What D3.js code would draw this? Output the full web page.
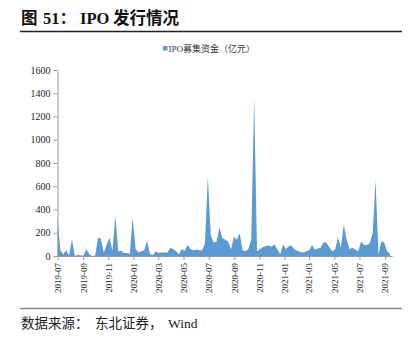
<!DOCTYPE html>
<html>
<head>
<meta charset="utf-8">
<script src="https://cdn.jsdelivr.net/npm/d3@7"></script>
<style>
  html, body { margin: 0; padding: 0; background: #fff; }
  svg { display: block; }
</style>
</head>
<body>
<svg id="chart" width="411" height="341"></svg>
<script>
// ---- data ----
const startDate = "2019-07-01"; // first weekly observation
const seriesName = "IPO募集资金（亿元）";
const ipoValues = [
  330, 50, 15, 50, 5, 143, 0, 10, 5, 5,
  57, 15, 0, 5, 157, 150, 30, 100, 157, 45,
  347, 40, 45, 25, 25, 20, 333, 60, 30, 40,
  50, 129, 15, 10, 40, 25, 30, 30, 30, 70,
  60, 40, 15, 60, 45, 95, 60, 50, 55, 50,
  50, 110, 680, 180, 115, 125, 245, 155, 140, 125,
  55, 165, 140, 195, 50, 40, 60, 140, 1360, 40,
  60, 75, 85, 90, 80, 100, 60, 15, 100, 60,
  86, 89, 55, 45, 35, 30, 40, 50, 95, 55,
  65, 70, 120, 115, 75, 40, 55, 160, 70, 270,
  140, 60, 70, 55, 40, 125, 95, 95, 110, 200,
  650, 10, 130, 115, 40, 20
];
const xTickLabels = ["2019-07","2019-09","2019-11","2020-01","2020-03","2020-05","2020-07",
                     "2020-09","2020-11","2021-01","2021-03","2021-05","2021-07","2021-09"];
const yTicks = [0, 200, 400, 600, 800, 1000, 1200, 1400, 1600];

// ---- build ----
const parseDay = d3.timeParse("%Y-%m-%d");
const parseMonth = d3.timeParse("%Y-%m");
const t0 = parseDay(startDate);
const data = ipoValues.map((v, i) => ({ date: d3.timeDay.offset(t0, 7 * i), value: v }));
const tickDates = xTickLabels.map(parseMonth);

const svg = d3.select("#chart");
const serif = "'Liberation Serif','Times New Roman','Noto Sans CJK SC',serif";
const cjk = "'Liberation Serif','Noto Sans CJK SC',sans-serif";

const x = d3.scaleTime()
  .domain([parseDay("2019-07-01"), parseDay("2021-09-18")])
  .range([57.5, 392.1]);
const y = d3.scaleLinear().domain([0, 1600]).range([256, 70]);

// title
const title = svg.append("text").attr("y", 24).attr("font-size", 16.5).attr("font-weight", "bold")
  .attr("fill", "#111").attr("font-family", cjk);
title.append("tspan").attr("x", 21).text("图");
title.append("tspan").attr("x", 43).text("51：");
title.append("tspan").attr("x", 80).text("IPO");
title.append("tspan").attr("x", 113).text("发行情况");

svg.append("line").attr("x1", 20).attr("x2", 402).attr("y1", 31.5).attr("y2", 31.5)
  .attr("stroke", "#222").attr("stroke-width", 1.3);

// legend
svg.append("rect").attr("x", 163).attr("y", 46).attr("width", 4.5).attr("height", 4.5).attr("fill", "#5B9BD5");
svg.append("text").attr("x", 168.5).attr("y", 52).attr("font-size", 9).attr("font-family", cjk)
  .attr("fill", "#333").text(seriesName);

// area
const area = d3.area()
  .x(d => x(d.date))
  .y0(y(0))
  .y1(d => y(d.value));
svg.append("path").datum(data).attr("d", area).attr("fill", "#5B9BD5");

// y axis
const yAxis = svg.append("g").attr("transform", "translate(57.5,0)")
  .call(d3.axisLeft(y).tickValues(yTicks).tickFormat(d3.format("d")).tickSize(4).tickSizeOuter(0).tickPadding(3));
yAxis.select(".domain").attr("stroke", "#999");
yAxis.selectAll(".tick line").attr("stroke", "#999");
yAxis.selectAll(".tick text").attr("font-family", serif).attr("font-size", 10).attr("fill", "#222");

// x axis
const xAxis = svg.append("g").attr("transform", "translate(0,256)")
  .call(d3.axisBottom(x).tickValues(tickDates).tickFormat(d3.timeFormat("%Y-%m")).tickSize(4).tickSizeOuter(0));
xAxis.select(".domain").attr("stroke", "#999");
xAxis.selectAll(".tick line").attr("stroke", "#999");
xAxis.selectAll(".tick text")
  .attr("font-family", serif).attr("font-size", 9).attr("fill", "#222")
  .attr("transform", "rotate(-90)")
  .attr("text-anchor", "end")
  .attr("x", -7).attr("y", 0).attr("dy", "0.32em");

// bottom rule and source
svg.append("line").attr("x1", 20).attr("x2", 402).attr("y1", 308.5).attr("y2", 308.5)
  .attr("stroke", "#888").attr("stroke-width", 1.5);
const src = svg.append("text").attr("y", 328).attr("font-size", 13.5).attr("fill", "#222").attr("font-family", cjk);
src.append("tspan").attr("x", 21).text("数据来源：");
src.append("tspan").attr("x", 95).text("东北证券，");
src.append("tspan").attr("x", 168).text("Wind");
</script>
</body>
</html>
